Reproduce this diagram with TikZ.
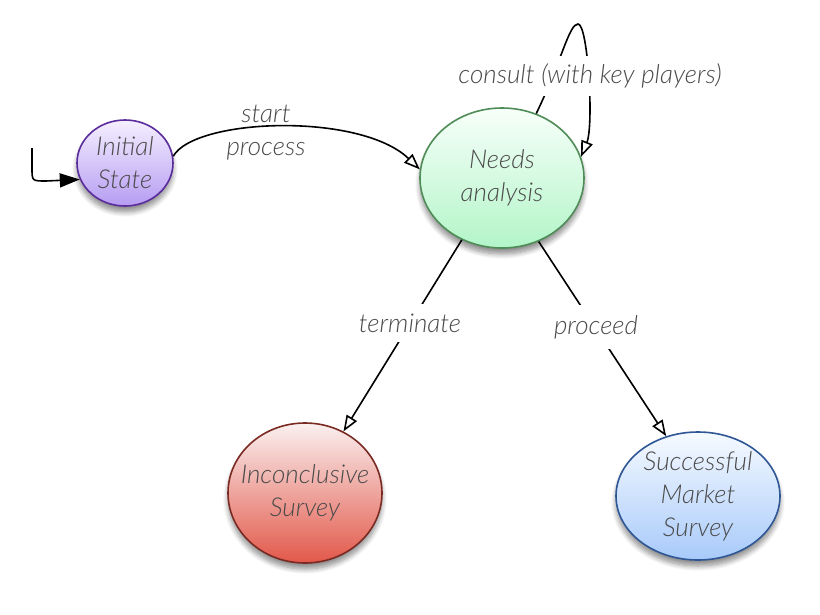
\documentclass[tikz,border=0pt]{standalone}
\usepackage{fontspec}
\IfFontExistsTF{Lato Light Italic}{\setmainfont{Lato Light}[ItalicFont={Lato Light Italic}]}{\setmainfont{TeX Gyre Heros}}
\usetikzlibrary{arrows.meta,shapes.geometric,shadows.blur}
\definecolor{txt}{HTML}{4a4a4a}
\tikzset{
  st/.style={ellipse, inner xsep=-30pt, inner ysep=-20pt, line width=1.6pt, align=center,
    font=\fontsize{26}{33}\selectfont\itshape, text=txt,
    blur shadow={shadow xshift=0pt, shadow yshift=-6pt, shadow blur steps=8, shadow opacity=45, shadow blur radius=5pt}},
  conn/.style={line width=1.6pt, -{Triangle[open, length=16pt, width=12pt, line width=1.6pt]}},
  lab/.style={font=\fontsize{26}{33}\selectfont\itshape, text=txt, align=center, inner sep=2pt}
}
\begin{document}
\begin{tikzpicture}[x=1pt,y=-1pt]
\useasboundingbox (0,0) rectangle (820,614);
\node[st, minimum width=96pt, minimum height=86pt, draw={rgb,255:red,91;green,45;blue,156},
  top color={rgb,255:red,245;green,240;blue,255}, bottom color={rgb,255:red,182;green,156;blue,242}]
  (is) at (125,163) {Initial\\State};
\node[st, minimum width=164pt, minimum height=140pt, draw={rgb,255:red,79;green,140;blue,87},
  top color={rgb,255:red,248;green,255;blue,250}, bottom color={rgb,255:red,178;green,245;blue,200}]
  (na) at (502,178) {Needs\\analysis};
\node[st, minimum width=154pt, minimum height=140pt, draw={rgb,255:red,122;green,42;blue,34},
  top color={rgb,255:red,250;green,240;blue,240}, bottom color={rgb,255:red,226;green,88;blue,74}]
  (inc) at (305,493) {Inconclusive\\Survey};
\node[st, minimum width=164pt, minimum height=128pt, draw={rgb,255:red,47;green,87;blue,149},
  top color={rgb,255:red,246;green,250;blue,255}, bottom color={rgb,255:red,168;green,202;blue,250}]
  (suc) at (698,496) {Successful\\Market\\Survey};

\coordinate (ini) at (32,148);
\draw[line width=1.6pt, -{Triangle[length=20pt, width=14pt]}] (ini) -- (32,168) .. controls (32,181) .. (46,181) -- (is.200);

\draw[conn] (is.8) .. controls (195,118) and (360,112) .. (na.174);
\node[lab] at (266,133) {start\\process};

\draw[conn] (na.62) .. controls (562,60) and (569,24) .. (578,24) .. controls (588,24) and (594,125) .. (na.15);
\node[lab, fill=white, inner sep=8pt] at (590,76) {consult (with key players)};

\draw[conn] (na.237) -- (inc.58);
\node[lab, fill=white, inner sep=10pt] at (410,323) {terminate};
\draw[conn] (na.300) -- (suc.118);
\node[lab, fill=white, inner sep=10pt] at (596,327) {proceed};
\end{tikzpicture}
\end{document}
